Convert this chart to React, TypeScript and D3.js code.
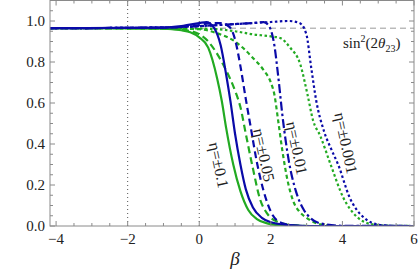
import React from "react";
import * as d3 from "d3";

const W = 418, H = 273;
const X0 = 50, X1 = 414, Y0 = 226, Ytop = 0.5;
const xDomain = [-4.17, 6];
const yDomain = [0, 1.1];

const xMajor = [-4, -2, 0, 2, 4, 6];
const xMajorLabels = ["−4", "−2", "0", "2", "4", "6"];
const yMajor = [0, 0.2, 0.4, 0.6, 0.8, 1.0];
const yMajorLabels = ["0.0", "0.2", "0.4", "0.6", "0.8", "1.0"];
const vLines = [-2, 0];
const sinLevel = 0.965;

// green solid, eta = 0.1
const gsB = [-4.17, -1, -0.5, -0.25, 0, 0.25, 0.5, 0.63, 0.75, 0.95, 1.15, 1.37, 1.6, 1.9, 2.3, 3, 6];
const gsV = [0.965, 0.963, 0.955, 0.945, 0.92, 0.87, 0.72, 0.61, 0.48, 0.3, 0.17, 0.078, 0.035, 0.013, 0.003, 0, 0];
// blue solid, eta = -0.1
const bsB = [-4.17, -1, -0.5, 0, 0.2, 0.4, 0.6, 0.75, 0.87, 1.0, 1.15, 1.3, 1.5, 1.75, 2.0, 2.5, 3, 6];
const bsV = [0.965, 0.968, 0.975, 0.99, 0.995, 0.97, 0.88, 0.74, 0.61, 0.45, 0.3, 0.18, 0.09, 0.04, 0.018, 0.004, 0, 0];
// green dashed, eta = 0.05
const gdB = [-4.17, -1, -0.5, 0, 0.25, 0.5, 0.75, 1.0, 1.15, 1.3, 1.5, 1.7, 1.9, 2.2, 2.6, 3.2, 6];
const gdV = [0.965, 0.963, 0.958, 0.935, 0.9, 0.84, 0.76, 0.66, 0.58, 0.45, 0.28, 0.13, 0.06, 0.02, 0.004, 0, 0];
// blue dashed, eta = -0.05
const bdB = [-4.17, -1, 0, 0.3, 0.6, 0.85, 1.0, 1.15, 1.3, 1.45, 1.6, 1.8, 2.0, 2.3, 2.8, 6];
const bdV = [0.965, 0.968, 0.98, 0.99, 0.99, 0.97, 0.91, 0.78, 0.62, 0.47, 0.32, 0.17, 0.07, 0.015, 0, 0];
// green dot-dashed, eta = 0.01
const gcB = [-4.17, -1, 0, 0.5, 1.0, 1.5, 1.8, 2.0, 2.1, 2.2, 2.32, 2.47, 2.63, 2.8, 3.0, 3.38, 3.8, 6];
const gcV = [0.965, 0.964, 0.96, 0.94, 0.9, 0.82, 0.76, 0.7, 0.64, 0.52, 0.37, 0.22, 0.12, 0.07, 0.04, 0.008, 0, 0];
// blue dot-dashed, eta = -0.01
const bcB = [-4.17, -1, 0, 0.5, 1.0, 1.5, 1.8, 1.95, 2.1, 2.2, 2.33, 2.5, 2.7, 2.9, 3.1, 3.4, 4, 6];
const bcV = [0.965, 0.968, 0.975, 0.98, 0.985, 0.99, 0.995, 0.975, 0.88, 0.74, 0.53, 0.32, 0.17, 0.085, 0.04, 0.012, 0.001, 0];
// green dotted, eta = 0.001
const gtB = [-4.17, -1, 0, 0.5, 1.0, 1.5, 2.0, 2.26, 2.54, 2.82, 3.02, 3.18, 3.38, 3.66, 4.02, 4.41, 4.78, 5.2, 6];
const gtV = [0.965, 0.965, 0.963, 0.96, 0.95, 0.935, 0.925, 0.917, 0.87, 0.79, 0.645, 0.515, 0.44, 0.305, 0.14, 0.044, 0.01, 0.002, 0];
// blue dotted, eta = -0.001
const btB = [-4.17, -1, 0, 1.0, 2.0, 2.5, 2.8, 2.99, 3.13, 3.27, 3.49, 3.7, 3.88, 4.2, 4.58, 5.06, 5.5, 6];
const btV = [0.965, 0.968, 0.975, 0.985, 0.995, 1.0, 0.99, 0.937, 0.77, 0.61, 0.46, 0.37, 0.3, 0.14, 0.044, 0.005, 0.001, 0];

const GREEN = "#22aa22";
const BLUE = "#0a0aa8";

const series = [
  { b: gsB, v: gsV, color: GREEN, dash: "none" },
  { b: gdB, v: gdV, color: GREEN, dash: "7,4" },
  { b: gcB, v: gcV, color: GREEN, dash: "4,3" },
  { b: gtB, v: gtV, color: GREEN, dash: "2.5,2.5" },
  { b: bsB, v: bsV, color: BLUE, dash: "none" },
  { b: bdB, v: bdV, color: BLUE, dash: "7,4" },
  { b: bcB, v: bcV, color: BLUE, dash: "9,3,2.5,3" },
  { b: btB, v: btV, color: BLUE, dash: "2.5,2.5" },
];

const labels = [
  { text: "η=±0.1", x: 219, y: 165 },
  { text: "η=±0.05", x: 264, y: 155 },
  { text: "η=±0.01", x: 297, y: 148 },
  { text: "η=±0.001", x: 346, y: 143 },
];

const FONT = "Liberation Serif";

export default function App() {
  const x = d3.scaleLinear().domain(xDomain).range([X0, X1]);
  const y = d3.scaleLinear().domain(yDomain).range([Y0, Ytop]);
  const line = d3
    .line<[number, number]>()
    .x((d) => x(d[0]))
    .y((d) => y(d[1]))
    .curve(d3.curveMonotoneX);

  const xMinor = d3.range(-4, 6.001, 0.5);
  const yMinor = d3.range(0, 1.1001, 0.05);
  const frame = "#8a8a8a";

  return (
    <svg width={W} height={H} style={{ position: "fixed", left: 0, top: 0, background: "#fff" }}>
      <defs>
        <clipPath id="plot">
          <rect x={X0} y={Ytop} width={X1 - X0} height={Y0 - Ytop} />
        </clipPath>
      </defs>
      {vLines.map((v) => (
        <line key={v} x1={x(v)} x2={x(v)} y1={Y0} y2={Ytop} stroke="#555" strokeWidth={1} strokeDasharray="1,3" />
      ))}
      <line x1={X0} x2={X1} y1={y(sinLevel)} y2={y(sinLevel)} stroke="#999" strokeWidth={1} strokeDasharray="6,4" />
      <g clipPath="url(#plot)">
        {series.map((s, i) => (
          <path
            key={i}
            d={line(s.b.map((b, j) => [b, s.v[j]] as [number, number])) || ""}
            fill="none"
            stroke={s.color}
            strokeWidth={2.2}
            strokeDasharray={s.dash}
          />
        ))}
      </g>
      <rect x={X0} y={Ytop} width={X1 - X0} height={Y0 - Ytop} fill="none" stroke={frame} strokeWidth={1} />
      {xMinor.map((t) => {
        const major = Math.abs(t % 2) < 1e-9;
        const len = major ? 5 : 3;
        return (
          <g key={"xt" + t}>
            <line x1={x(t)} x2={x(t)} y1={Y0} y2={Y0 - len} stroke={frame} />
            <line x1={x(t)} x2={x(t)} y1={Ytop} y2={Ytop + len} stroke={frame} />
          </g>
        );
      })}
      {yMinor.map((t) => {
        const major = Math.abs(Math.round(t * 100) % 20) < 1e-6;
        const len = major ? 5 : 3;
        return (
          <g key={"yt" + t}>
            <line x1={X0} x2={X0 + len} y1={y(t)} y2={y(t)} stroke={frame} />
            <line x1={X1} x2={X1 - len} y1={y(t)} y2={y(t)} stroke={frame} />
          </g>
        );
      })}
      {xMajor.map((t, i) => (
        <text key={"xl" + t} x={x(t)} y={244} fontSize={15} textAnchor="middle" fill="#222" fontFamily={FONT}>
          {xMajorLabels[i]}
        </text>
      ))}
      {yMajor.map((t, i) => (
        <text key={"yl" + t} x={45} y={y(t)} dy="0.35em" fontSize={15} textAnchor="end" fill="#222" fontFamily={FONT}>
          {yMajorLabels[i]}
        </text>
      ))}
      <text x={235} y={265} fontSize={19} fontStyle="italic" textAnchor="middle" fill="#222" fontFamily={FONT}>
        β
      </text>
      <text x={343} y={48} fontSize={15} fill="#222" fontFamily={FONT}>
        sin<tspan dy={-6} fontSize={10}>2</tspan>
        <tspan dy={6}>(2</tspan>
        <tspan fontStyle="italic">θ</tspan>
        <tspan dy={4} fontSize={10}>23</tspan>
        <tspan dy={-4}>)</tspan>
      </text>
      {labels.map((l) => (
        <text
          key={l.text}
          x={l.x}
          y={l.y}
          fontSize={16}
          fill="#222"
          textAnchor="middle"
          dominantBaseline="central"
          fontFamily={FONT}
          transform={`rotate(78, ${l.x}, ${l.y})`}
        >
          {l.text}
        </text>
      ))}
    </svg>
  );
}
